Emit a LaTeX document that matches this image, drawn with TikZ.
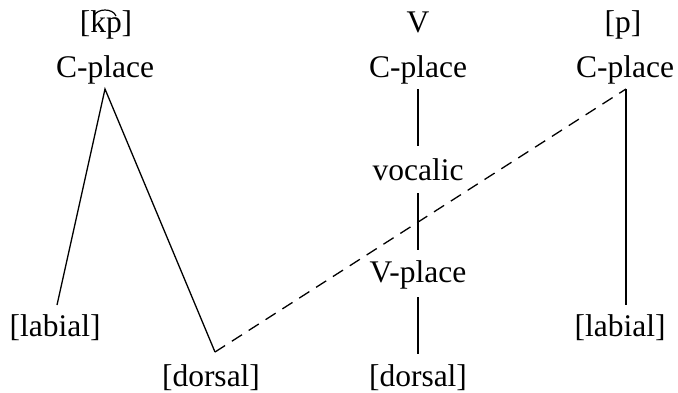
\documentclass[tikz,border=0pt]{standalone}
\usepackage{fontspec}
\setmainfont{Liberation Serif}
\begin{document}
\begin{tikzpicture}[x=1pt,y=-1pt,
  lab/.style={anchor=base,inner sep=0pt,font=\fontsize{31.5}{36}\selectfont},
  edge/.style={line width=1.3pt},
  tiebar/.style={line width=1.2pt},
  dash edge/.style={line width=1.3pt,dash pattern=on 12pt off 8pt}]
\useasboundingbox (0,0) rectangle (678,392);
% labels
\node[lab] (kp) at (106,32) {[kp]};
\node[lab] (cpA) at (105,77) {C-place};
\node[lab] (v) at (418,32) {V};
\node[lab] (cpB) at (418,77) {C-place};
\node[lab] (p) at (623,32) {[p]};
\node[lab] (cpC) at (625,77) {C-place};
\node[lab] (voc) at (418,180) {vocalic};
\node[lab] (vpl) at (418,282) {V-place};
\node[lab] (labA) at (55,336) {[labial]};
\node[lab] (labB) at (620,336) {[labial]};
\node[lab] (dorA) at (211,386) {[dorsal]};
\node[lab] (dorB) at (418,386) {[dorsal]};
% tie bar over kp
\coordinate (tieL) at (94,16);
\coordinate (tieR) at (116,16);
\draw[tiebar] (tieL) .. controls (97,8) and (113,8) .. (tieR);
% endpoints
\coordinate (aTop) at (105,89);
\coordinate (aL) at (57,305);
\coordinate (aR) at (215,352);
\coordinate (cTop) at (626,89);
\coordinate (cBot) at (626,305);
\coordinate (b1) at (418,89);
\coordinate (b2) at (418,146);
\coordinate (b3) at (418,193);
\coordinate (b4) at (418,250);
\coordinate (b5) at (418,297);
\coordinate (b6) at (418,354);
% connectors
\draw[edge] (aL) -- (aTop) -- (aR);
\draw[dash edge] (aR) -- (cTop);
\draw[edge] (cTop) -- (cBot);
\draw[edge] (b1) -- (b2);
\draw[edge] (b3) -- (b4);
\draw[edge] (b5) -- (b6);
\end{tikzpicture}
\end{document}
